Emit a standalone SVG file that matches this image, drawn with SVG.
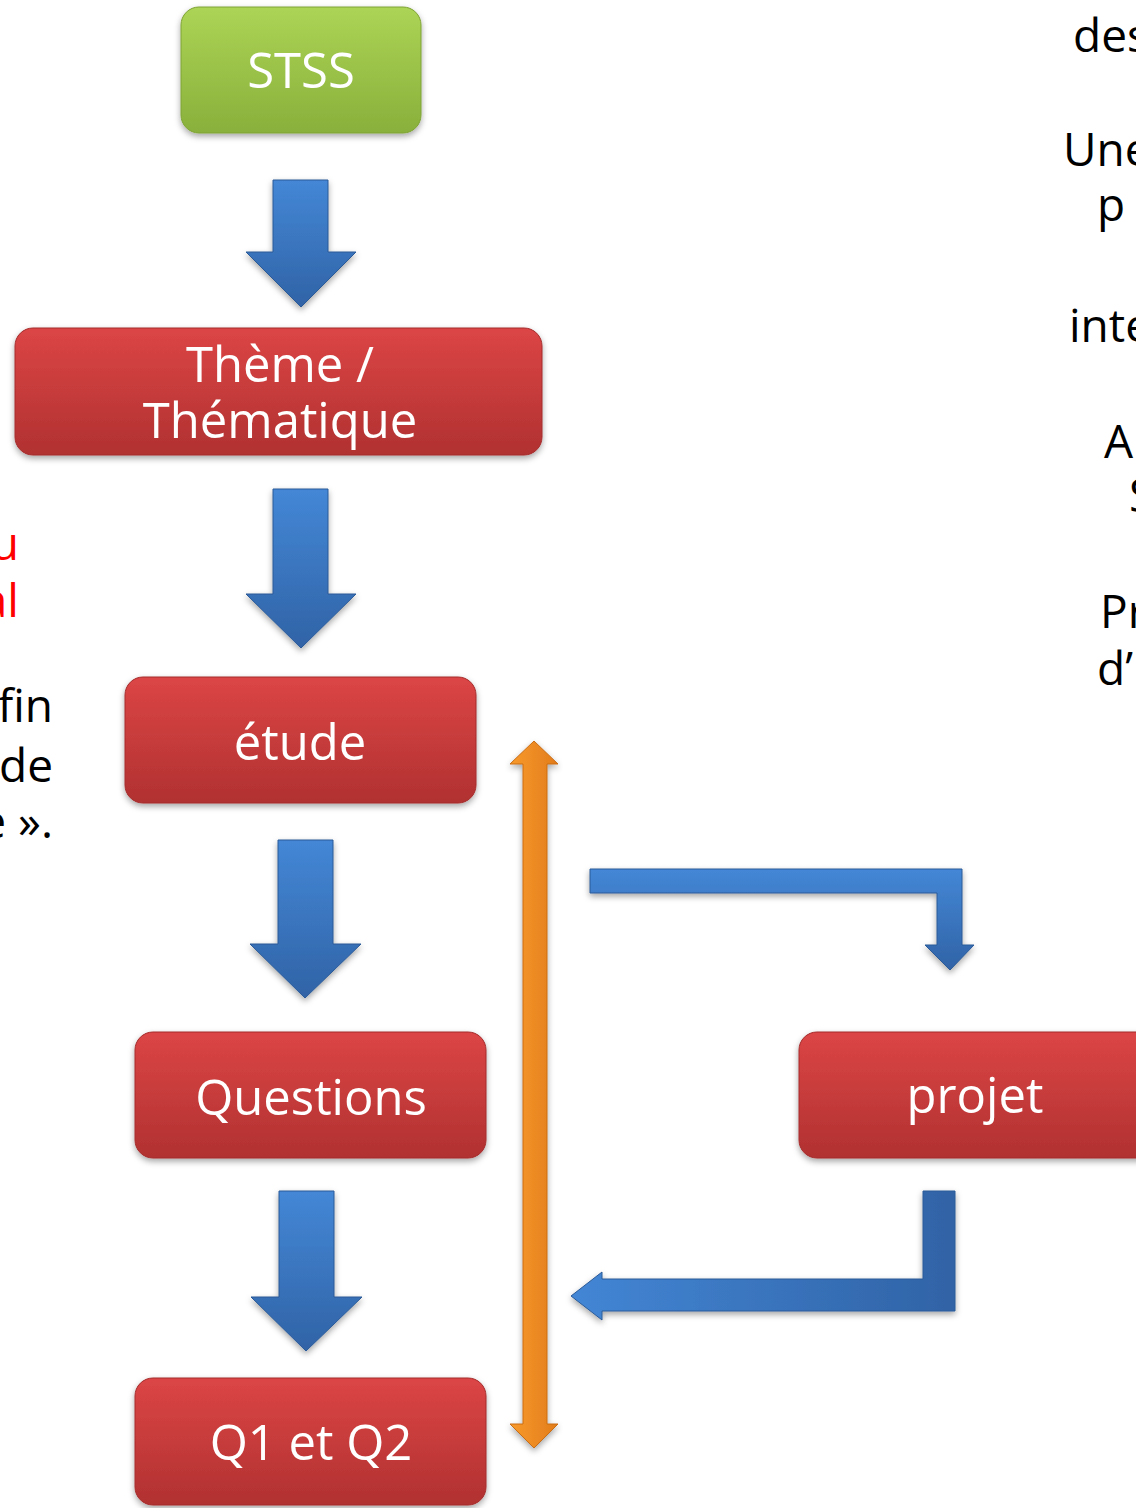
<svg xmlns="http://www.w3.org/2000/svg" width="1136" height="1508" viewBox="0 0 1136 1508">
<defs>
<linearGradient id="gGreen" x1="0" y1="0" x2="0" y2="1"><stop offset="0" stop-color="#acd455"/><stop offset="1" stop-color="#89b03b"/></linearGradient>
<linearGradient id="gRed" x1="0" y1="0" x2="0" y2="1"><stop offset="0" stop-color="#dc4545"/><stop offset="1" stop-color="#b13131"/></linearGradient>
<linearGradient id="gBlueV" x1="0" y1="0" x2="0" y2="1"><stop offset="0" stop-color="#4487d6"/><stop offset="1" stop-color="#3063a6"/></linearGradient>
<linearGradient id="gBlueH" x1="0" y1="0" x2="1" y2="0"><stop offset="0" stop-color="#4386d5"/><stop offset="1" stop-color="#3063a6"/></linearGradient>
<linearGradient id="gOrange" x1="0" y1="0" x2="1" y2="0"><stop offset="0" stop-color="#f89a2c"/><stop offset="1" stop-color="#e27c1b"/></linearGradient>
<filter id="sh" x="-10%" y="-10%" width="120%" height="130%"><feDropShadow dx="0" dy="3" stdDeviation="3" flood-color="#000" flood-opacity="0.35"/></filter>
</defs>
<style>
.box{filter:url(#sh);}
.red{fill:url(#gRed);stroke:#a52c2c;stroke-width:1;}
.green{fill:url(#gGreen);stroke:#7fa336;stroke-width:1;}
.lbl{font-family:"Open Sans","Noto Sans",sans-serif;font-size:49px;fill:#ffffff;text-anchor:middle;}
.side{font-family:"Open Sans","Noto Sans",sans-serif;font-size:46px;fill:#000000;}
.redt{fill:#ff0000;}
.arr{fill:url(#gBlueV);stroke:#2a5a98;stroke-width:1;filter:url(#sh);}
.arrh{fill:url(#gBlueH);stroke:#2a5a98;stroke-width:1;filter:url(#sh);}
.org{fill:url(#gOrange);stroke:#c96d15;stroke-width:1;filter:url(#sh);}
</style>
<rect width="1136" height="1508" fill="#ffffff"/>

<g id="side-left">
<text class="side redt" x="19" y="560" text-anchor="end">u</text>
<text class="side redt" x="19" y="617" text-anchor="end">al</text>
<text class="side" x="53" y="722" text-anchor="end">fin</text>
<text class="side" x="53" y="782" text-anchor="end">de</text>
<text class="side" x="53" y="838" text-anchor="end">e ».</text>
</g>
<g id="side-right">
<text class="side" x="1073" y="52">des</text>
<text class="side" x="1063" y="166">Une</text>
<text class="side" x="1097" y="221">p</text>
<text class="side" x="1069" y="342">inte</text>
<text class="side" x="1104" y="458">A</text>
<text class="side" x="1129" y="512">S</text>
<text class="side" x="1100" y="628">Pr</text>
<text class="side" x="1097" y="685">d’</text>
</g>

<g id="connectors">
<path class="arr" d="M273,180 H328 V252 H356 L301,307 L246,252 H273 Z"/>
<path class="arr" d="M273,489 H328 V594 H356 L301,648 L246,594 H273 Z"/>
<path class="arr" d="M278,840 H333 V944 H361 L305,998 L250,944 H278 Z"/>
<path class="arr" d="M279,1191 H334 V1297 H362 L306,1351 L251,1297 H279 Z"/>
<path class="org" d="M523,764 H510 L534,741 L558,764 H547 V1424 H558 L534,1448 L510,1424 H523 Z"/>
<path class="arr" d="M590,869 H962 V945 H974 L950,970 L925,945 H937 V893 H590 Z"/>
<path class="arrh" d="M923,1191 H955 V1311 H602 V1320 L571,1296 L602,1272 V1279 H923 Z"/>
</g>

<g id="node-stss" class="box">
<rect class="green" x="181" y="7" width="240" height="126" rx="18"/>
<text class="lbl" x="301" y="88">STSS</text>
</g>
<g id="node-theme" class="box">
<rect class="red" x="15" y="328" width="527" height="127" rx="18"/>
<text class="lbl" x="280" y="382">Thème /</text>
<text class="lbl" x="280" y="438">Thématique</text>
</g>
<g id="node-etude" class="box">
<rect class="red" x="125" y="677" width="351" height="126" rx="18"/>
<text class="lbl" x="300" y="760">étude</text>
</g>
<g id="node-questions" class="box">
<rect class="red" x="135" y="1032" width="351" height="126" rx="18"/>
<text class="lbl" x="311" y="1115">Questions</text>
</g>
<g id="node-q1q2" class="box">
<rect class="red" x="135" y="1378" width="351" height="127" rx="18"/>
<text class="lbl" x="311" y="1460">Q1 et Q2</text>
</g>
<g id="node-projet" class="box">
<rect class="red" x="799" y="1032" width="360" height="126" rx="18"/>
<text class="lbl" x="975" y="1113">projet</text>
</g>
</svg>
